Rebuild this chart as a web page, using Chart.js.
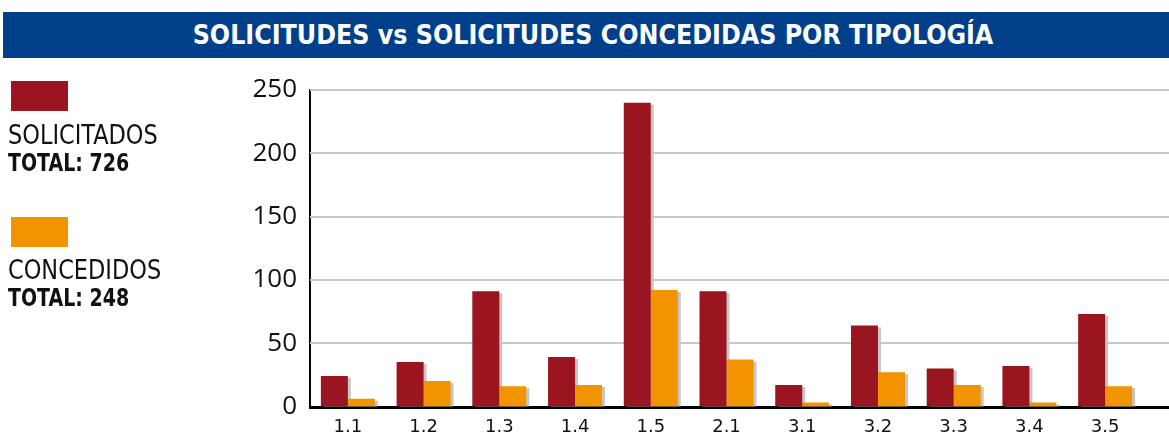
<!DOCTYPE html>
<html>
<head>
<meta charset="utf-8">
<script src="https://cdn.jsdelivr.net/npm/chart.js@4"></script>
<style>
  body { margin: 0; background: #fff; }
  #wrap { position: relative; width: 1169px; height: 435px; overflow: hidden; }
  #titulo {
    position: absolute; left: 3px; top: 12px; width: 1152px; height: 46px; padding-left: 14px;
    background: #003f8a; color: #fff; text-align: center;
    font: bold 26.5px "DejaVu Sans Condensed", sans-serif;
    line-height: 46px;
  }
  .caja { position: absolute; left: 11px; width: 57px; height: 30px; }
  .nombre { position: absolute; left: 8px; font: 26px "DejaVu Sans Condensed", sans-serif; color: #111;
            transform: scaleX(0.96); transform-origin: left; white-space: nowrap; }
  .total { position: absolute; left: 8px; font: bold 24px "DejaVu Sans Condensed", sans-serif; color: #111;
           transform: scaleX(0.88); transform-origin: left; white-space: nowrap; }
  canvas { position: absolute; left: 0; top: 0; }
</style>
</head>
<body>
<div id="wrap">
  <canvas id="grafico" width="1169" height="435"></canvas>
  <div id="titulo">SOLICITUDES vs SOLICITUDES CONCEDIDAS POR TIPOLOGÍA</div>
  <div class="caja" style="top:81px;background:#9b1520"></div>
  <div class="nombre" style="top:120px">SOLICITADOS</div>
  <div class="total" style="top:149px">TOTAL: 726</div>
  <div class="caja" style="top:217px;background:#f29400"></div>
  <div class="nombre" style="top:255px">CONCEDIDOS</div>
  <div class="total" style="top:284px">TOTAL: 248</div>
</div>
<script>
/* DATOS */
const tipologias = ['1.1', '1.2', '1.3', '1.4', '1.5', '2.1', '3.1', '3.2', '3.3', '3.4', '3.5'];
const solicitados = [24, 35, 91, 39, 240, 91, 17, 64, 30, 32, 73];
const concedidos = [6, 20, 16, 17, 92, 37, 3, 27, 17, 3, 16];

// sombra gris detras de cada barra
const sombras = {
    id: 'sombras',
    beforeDatasetsDraw(chart) {
        const ctx = chart.ctx;
        ctx.save();
        ctx.fillStyle = '#c6c6c6';
        chart.data.datasets.forEach((ds, i) => {
            chart.getDatasetMeta(i).data.forEach(bar => {
                const p = bar.getProps(['x', 'y', 'base', 'width'], true);
                ctx.fillRect(p.x - p.width / 2 + 3, p.y + 2, p.width, p.base - p.y - 2);
            });
        });
        ctx.restore();
    }
};

// lineas de la rejilla hasta el borde derecho
const rejilla = {
    id: 'rejilla',
    beforeDatasetsDraw(chart) {
        const ctx = chart.ctx;
        const y = chart.scales.y;
        ctx.save();
        ctx.strokeStyle = '#c8c8c8';
        ctx.lineWidth = 2;
        y.ticks.forEach(t => {
            if (t.value === 0) return;
            const py = Math.round(y.getPixelForValue(t.value));
            ctx.beginPath();
            ctx.moveTo(chart.chartArea.left, py);
            ctx.lineTo(chart.width, py);
            ctx.stroke();
        });
        // eje x
        const base = y.getPixelForValue(0);
        ctx.strokeStyle = '#000';
        ctx.lineWidth = 3;
        ctx.beginPath();
        ctx.moveTo(chart.chartArea.left - 1, base + 1);
        ctx.lineTo(chart.width, base + 1);
        ctx.stroke();
        ctx.restore();
    }
};

const grafico = new Chart(document.querySelector('#grafico'), {
    type: 'bar',
    data: {
        labels: tipologias,
        datasets: [{
            label: 'SOLICITADOS',
            data: solicitados,
            backgroundColor: '#9b1520'
        }, {
            label: 'CONCEDIDOS',
            data: concedidos,
            backgroundColor: '#f29400'
        }]
    },
    options: {
        responsive: false,
        animation: false,
        layout: { padding: { top: 90, right: 26 } },
        datasets: { bar: { categoryPercentage: 0.713, barPercentage: 1 } },
        plugins: { legend: { display: false }, tooltip: { enabled: false } },
        scales: {
            x: {
                afterFit: s => { s.height = 28; },
                grid: { display: false, drawTicks: false },
                border: { display: false },
                ticks: { color: '#111', font: { family: 'DejaVu Sans', size: 18 }, padding: 10 }
            },
            y: {
                min: 0, max: 250,
                afterFit: s => { s.width = 310; },
                grid: { display: false, drawTicks: false },
                border: { display: true, color: '#000', width: 2 },
                ticks: {
                    stepSize: 50, padding: 13, color: '#111',
                    font: { family: 'Open Sans', size: 26 }
                }
            }
        }
    },
    plugins: [rejilla, sombras]
});
</script>
</body>
</html>
